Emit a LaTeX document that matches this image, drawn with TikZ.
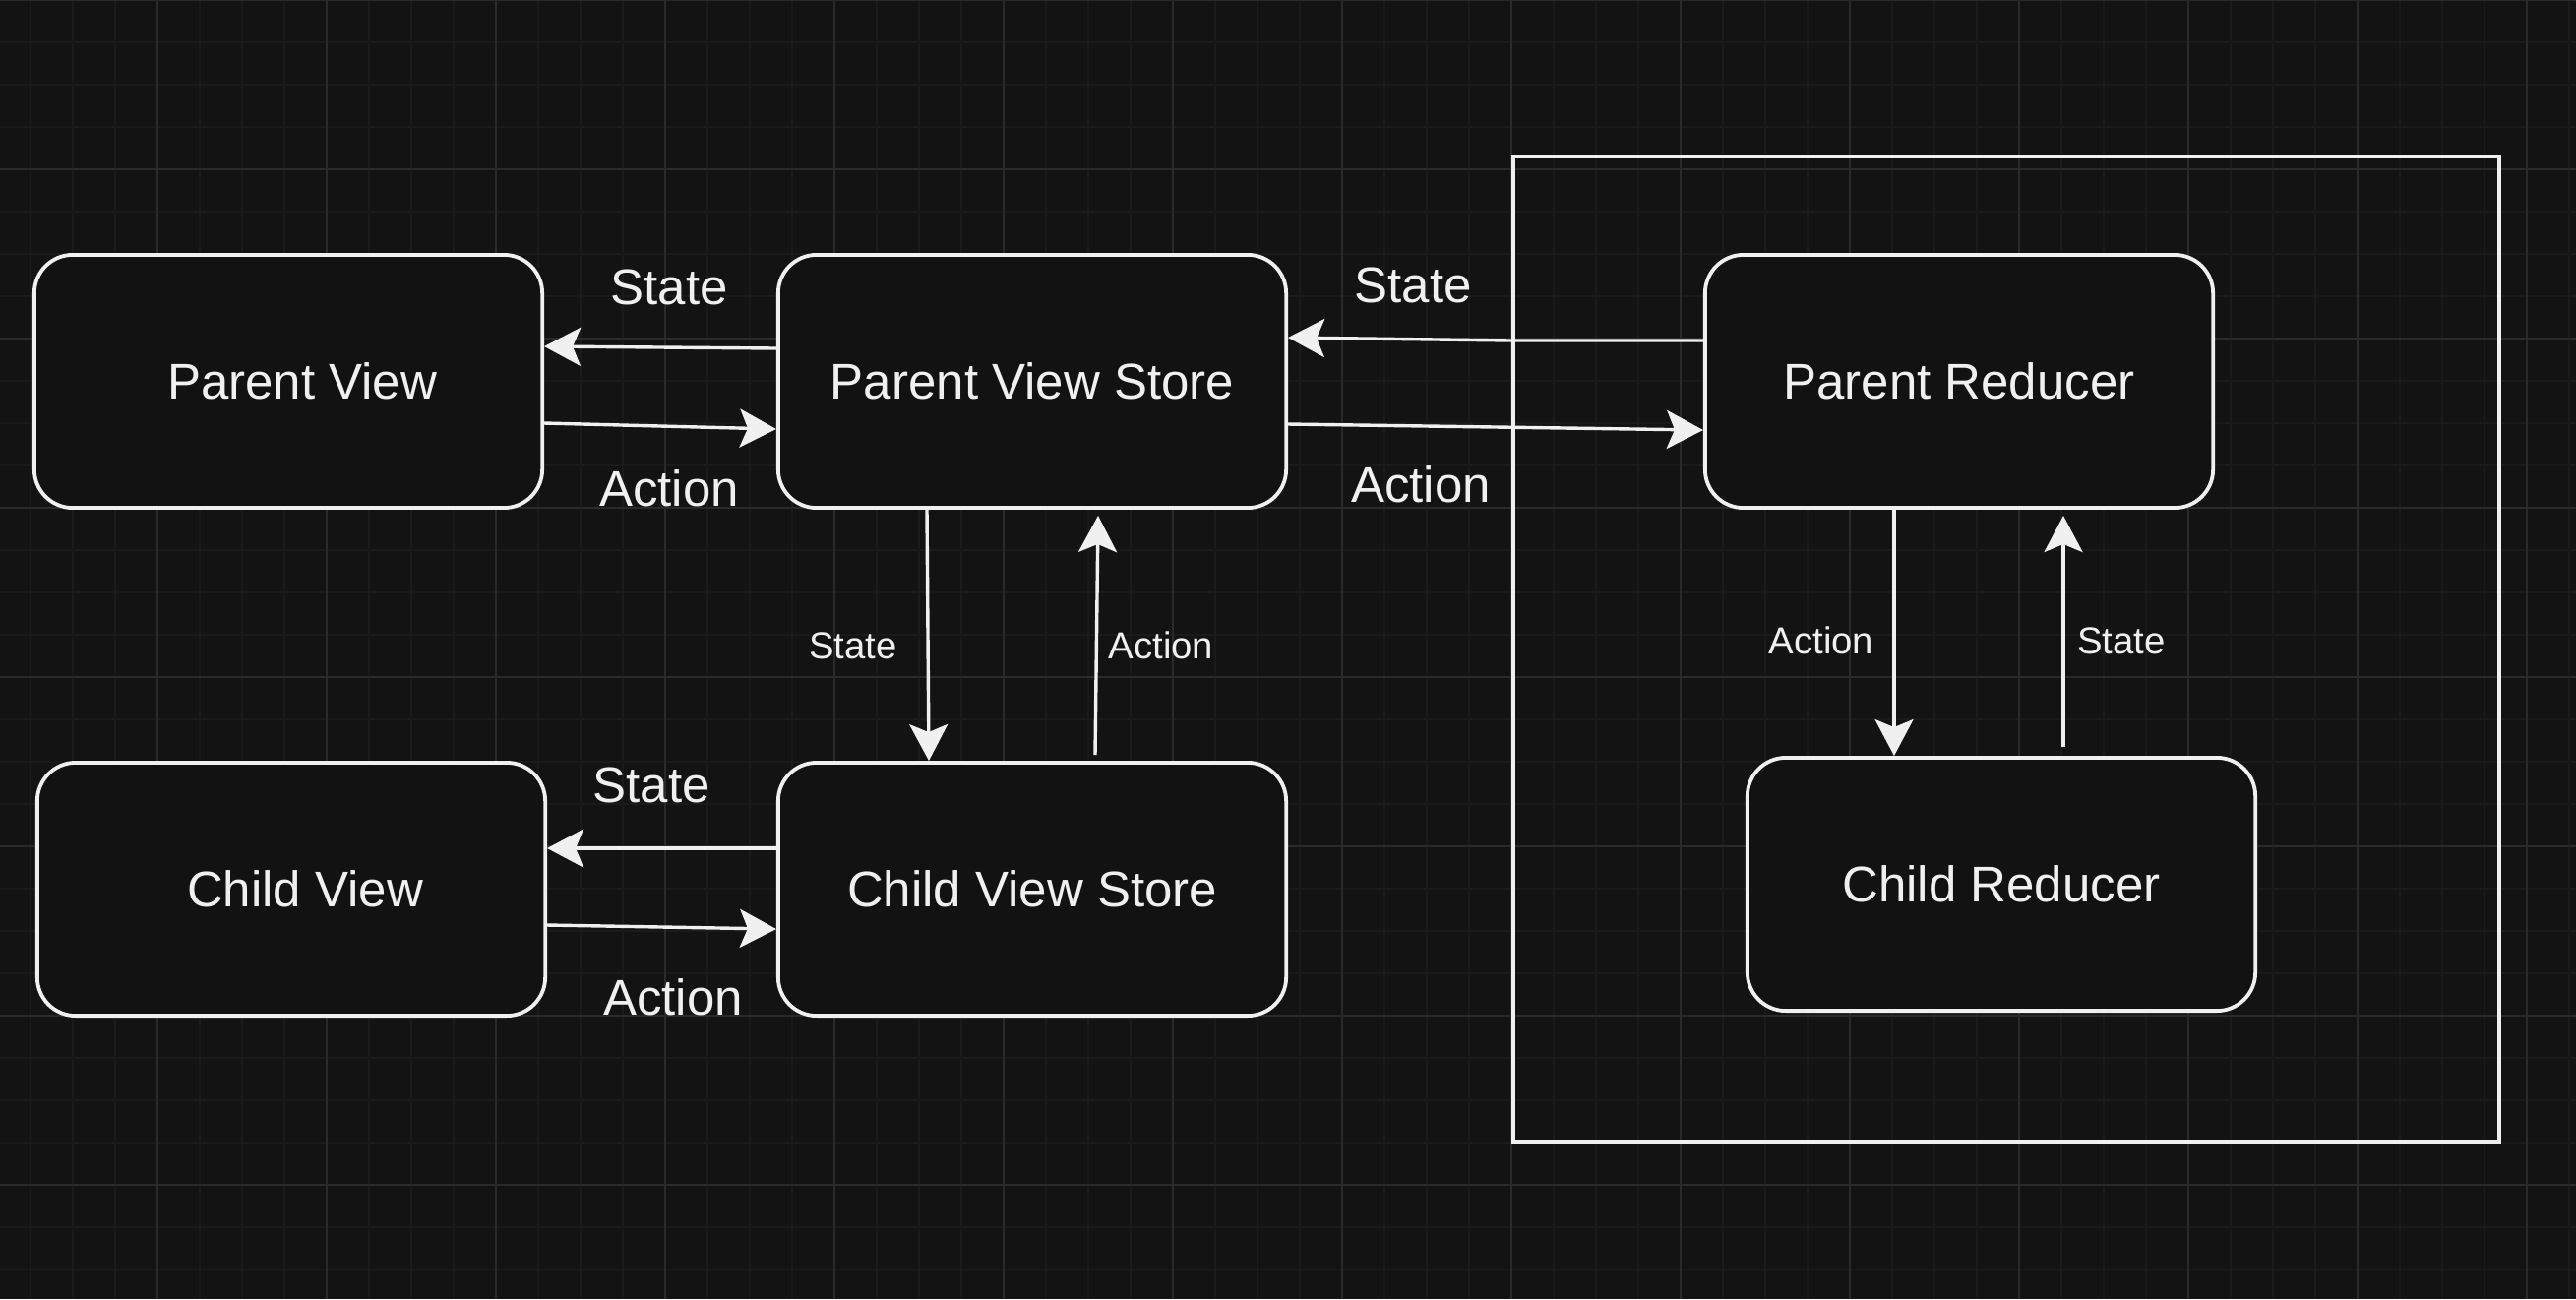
\documentclass[tikz,border=0pt]{standalone}
\usepackage{fontspec}
\setmainfont{Liberation Sans}
\usetikzlibrary{arrows.meta}
\definecolor{bgc}{HTML}{131313}
\definecolor{gridfine}{HTML}{1A1A1A}
\definecolor{gridmajor}{HTML}{2A2A2A}
\definecolor{fg}{HTML}{F0F0F0}
\definecolor{boxfill}{HTML}{121212}
\begin{document}
\begin{tikzpicture}[x=0.01cm,y=-0.01cm,
  box/.style={draw=fg, fill=boxfill, rounded corners=0.39cm, line width=0.038cm,
    minimum width=5.16cm, minimum height=2.57cm, inner sep=0pt, text=fg,
    font=\fontsize{14.5pt}{17pt}\selectfont},
  group/.style={draw=fg, line width=0.038cm, minimum width=10.02cm, minimum height=10.01cm, inner sep=0pt},
  biglabel/.style={text=fg, inner sep=0pt, font=\fontsize{14.5pt}{17pt}\selectfont},
  smalllabel/.style={text=fg, inner sep=0pt, font=\fontsize{10.9pt}{13pt}\selectfont},
  arr/.style={draw=fg, line width=0.034cm, -{Stealth[length=0.37cm, width=0.39cm, inset=0.08cm]}}
]
\useasboundingbox (0,0) rectangle (2618,1320);
\fill[bgc] (0,0) rectangle (2618,1320);
% grid
\foreach \gx in {31,74,...,2618} \draw[gridfine, line width=0.012cm] (\gx,0) -- (\gx,1320);
\foreach \gy in {0,43,...,1320} \draw[gridfine, line width=0.012cm] (0,\gy) -- (2618,\gy);
\foreach \gx in {160,332,...,2618} \draw[gridmajor, line width=0.015cm] (\gx,0) -- (\gx,1320);
\foreach \gy in {0,172,...,1320} \draw[gridmajor, line width=0.015cm] (0,\gy) -- (2618,\gy);

% group frame
\node[group] (grp) at (2039,659.5) {};

% boxes
\node[box] (pv)  at (293,387.5)  {\hspace*{0.28cm}Parent View};
\node[box] (pvs) at (1049,387.5) {Parent View Store};
\node[box] (pr)  at (1991,387.5) {Parent Reducer};
\node[box] (cv)  at (296,903.5)  {\hspace*{0.28cm}Child View};
\node[box] (cvs) at (1049,903.5) {Child View Store};
\node[box] (cr)  at (2034,898.5) {Child Reducer};

% connectors
\draw[arr] (pvs.west |- 0,354) -- (pv.east |- 0,352);
\draw[arr] (pv.east |- 0,430) -- (pvs.west |- 0,436);
\draw[arr] (pr.west |- 0,346) -- (grp.west |- 0,346) -- (pvs.east |- 0,343);
\draw[arr] (pvs.east |- 0,431) -- (pr.west |- 0,437);
\draw[arr] (pvs.south -| 942,0) -- (cvs.north -| 944,0);
\draw[arr] ([yshift=0.06cm]cvs.north -| 1113,0) -- ([yshift=-0.06cm]pvs.south -| 1116,0);
\draw[arr] (cvs.west |- 0,862) -- (cv.east |- 0,862);
\draw[arr] (cv.east |- 0,940) -- (cvs.west |- 0,944);
\draw[arr] ([yshift=0.04cm]pr.south -| 1925,0) -- (cr.north -| 1925,0);
\draw[arr] ([yshift=0.09cm]cr.north -| 2097,0) -- ([yshift=-0.06cm]pr.south -| 2097,0);

% labels
\node[biglabel] (l1) at (680,292) {State};
\node[biglabel] (l2) at (680,496) {Action};
\node[biglabel] (l3) at (1436,290) {State};
\node[biglabel] (l4) at (1444,492) {Action};
\node[smalllabel] (l5) at (867,656) {State};
\node[smalllabel] (l6) at (1180,656) {Action};
\node[smalllabel] (l7) at (1851,651) {Action};
\node[smalllabel] (l8) at (2156,651) {State};
\node[biglabel] (l9) at (662,798) {State};
\node[biglabel] (l10) at (684,1013) {Action};
\end{tikzpicture}
\end{document}
